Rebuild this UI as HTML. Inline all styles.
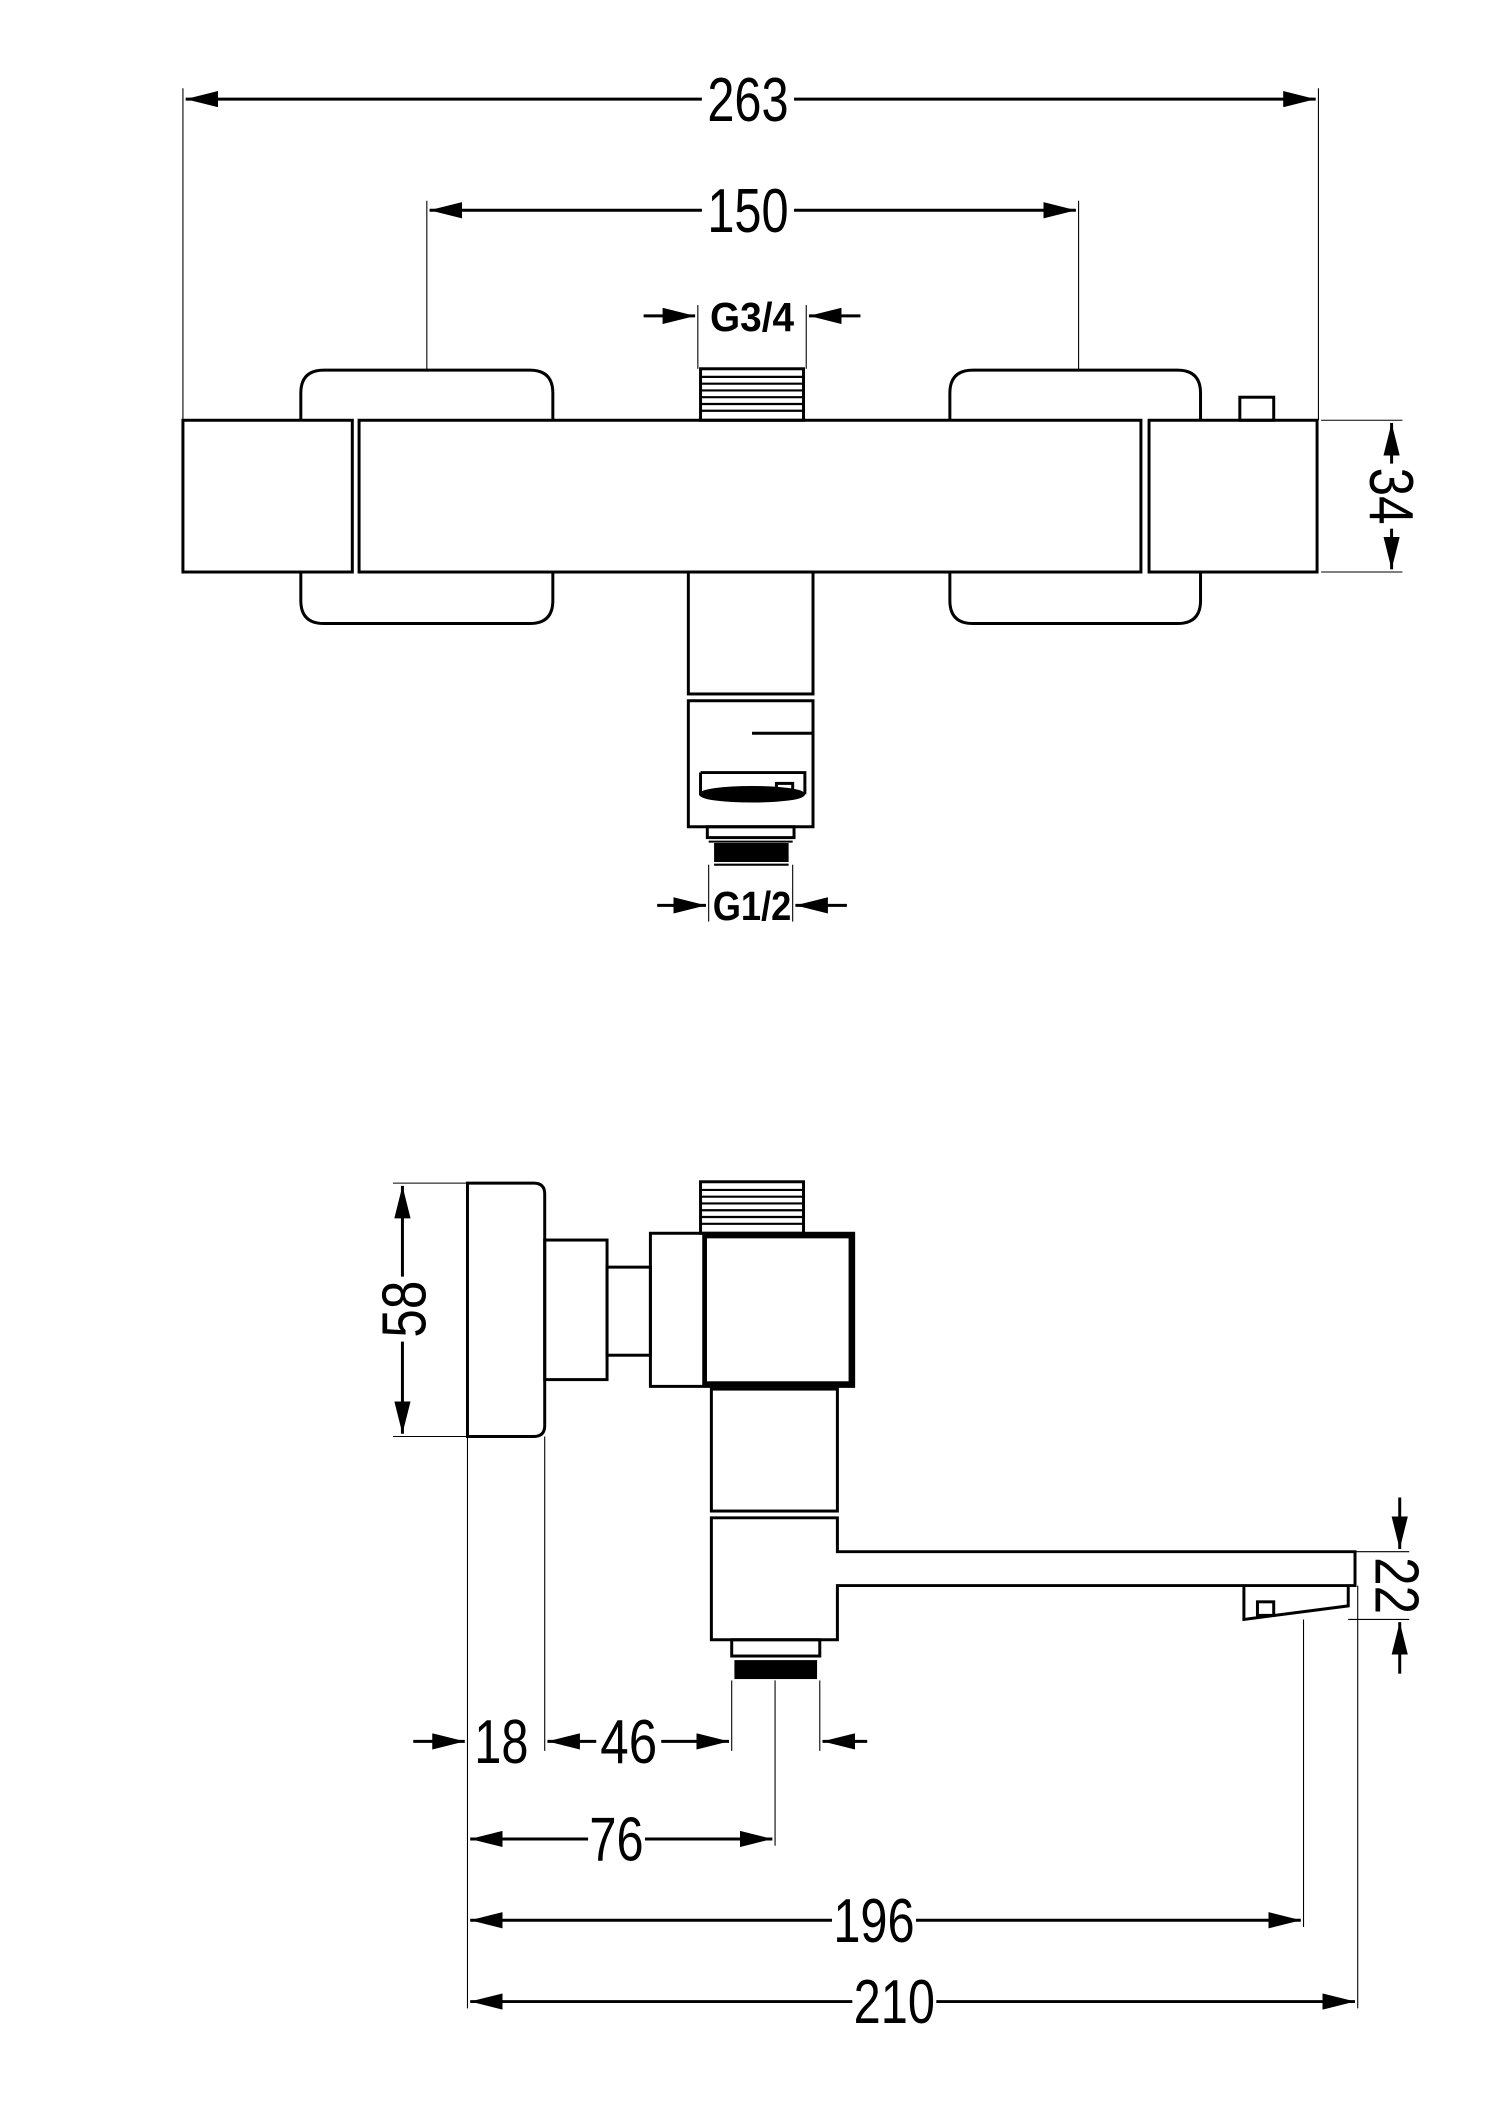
<!DOCTYPE html>
<html><head><meta charset="utf-8"><style>
html,body{margin:0;padding:0;background:#fff;}
svg{display:block;}
text{font-family:"Liberation Sans Narrow","Liberation Sans",sans-serif;fill:#000;}
</style></head><body>
<svg width="1500" height="2121" viewBox="0 0 1107 1565" xmlns="http://www.w3.org/2000/svg">
<defs>
<marker id="a" viewBox="0 0 24 12" refX="24" refY="6" markerWidth="24" markerHeight="12" markerUnits="userSpaceOnUse" orient="auto-start-reverse"><path d="M0,0 L24,6 L0,12 Z" fill="#000"/></marker>
</defs>
<g fill="none" stroke="#000">
<!-- TOP VIEW -->
<g stroke-width="0.8">
<line x1="135" y1="65" x2="135" y2="310"/><line x1="973" y1="65" x2="973" y2="310"/>
<line x1="315" y1="148" x2="315" y2="273"/><line x1="796" y1="148" x2="796" y2="273"/>
<line x1="515" y1="225" x2="515" y2="272"/><line x1="595" y1="225" x2="595" y2="272"/>
<line x1="975" y1="310" x2="1035" y2="310"/><line x1="975" y1="422" x2="1035" y2="422"/>
<line x1="523" y1="638" x2="523" y2="680"/><line x1="585" y1="638" x2="585" y2="680"/>
</g>
<g stroke-width="2.2">
<line x1="137" y1="73" x2="518" y2="73" marker-start="url(#a)"/><line x1="586" y1="73" x2="971" y2="73" marker-end="url(#a)"/>
<line x1="317" y1="155" x2="518" y2="155" marker-start="url(#a)"/><line x1="586" y1="155" x2="794" y2="155" marker-end="url(#a)"/>
<line x1="475" y1="233" x2="513" y2="233" marker-end="url(#a)"/><line x1="635" y1="233" x2="597" y2="233" marker-end="url(#a)"/>
<line x1="485" y1="668" x2="521" y2="668" marker-end="url(#a)"/><line x1="625" y1="668" x2="587" y2="668" marker-end="url(#a)"/>
<line x1="1027" y1="312" x2="1027" y2="342" marker-start="url(#a)"/><line x1="1027" y1="390" x2="1027" y2="420" marker-end="url(#a)"/>
</g>
<g stroke-width="2.2">
<path d="M222,310 V290 Q222,273 239,273 H391 Q408,273 408,290 V310"/>
<path d="M701,310 V290 Q701,273 718,273 H869 Q886,273 886,290 V310"/>
<path d="M222,422 V443 Q222,460 239,460 H391 Q408,460 408,443 V422"/>
<path d="M701,422 V443 Q701,460 718,460 H869 Q886,460 886,443 V422"/>
<rect x="135" y="310" width="125" height="112"/>
<rect x="265" y="310" width="577" height="112"/>
<rect x="848" y="310" width="124" height="112"/>
<rect x="915" y="293" width="25" height="17"/>
<rect x="517" y="272" width="76" height="38"/>
<rect x="508" y="422" width="92" height="90"/>
<rect x="508" y="517" width="92" height="93"/>
<line x1="555" y1="541" x2="600" y2="541"/>
<path d="M517,570 V586 M517,570 H594 V586"/>
<ellipse cx="555" cy="586" rx="38" ry="5" fill="#000"/>
<rect x="573" y="578" width="12" height="10"/>
<rect x="522" y="610" width="64" height="8"/>
</g>
<g stroke-width="1.6">
<line x1="517" y1="278" x2="593" y2="278"/><line x1="517" y1="283" x2="593" y2="283"/><line x1="517" y1="288" x2="593" y2="288"/><line x1="517" y1="293" x2="593" y2="293"/><line x1="517" y1="298" x2="593" y2="298"/><line x1="517" y1="303" x2="593" y2="303"/>
</g>
<rect x="527" y="622" width="55" height="14" fill="#000" stroke="none"/>
<line x1="523" y1="621" x2="585" y2="621" stroke-width="1.5"/><line x1="527" y1="638" x2="582" y2="638" stroke-width="1.5"/>

<!-- SIDE VIEW -->
<g stroke-width="0.8">
<line x1="290" y1="873" x2="345" y2="873"/><line x1="290" y1="1060" x2="345" y2="1060"/>
<line x1="345" y1="1060" x2="345" y2="1482"/>
<line x1="402" y1="1060" x2="402" y2="1292"/>
<line x1="540" y1="1240" x2="540" y2="1292"/><line x1="605" y1="1240" x2="605" y2="1292"/>
<line x1="572" y1="1240" x2="572" y2="1362"/>
<line x1="962" y1="1195" x2="962" y2="1422"/>
<line x1="1002" y1="1170" x2="1002" y2="1482"/>
<line x1="1000" y1="1145" x2="1040" y2="1145"/><line x1="995" y1="1195" x2="1040" y2="1195"/>
</g>
<g stroke-width="2.2">
<line x1="297" y1="875" x2="297" y2="942" marker-start="url(#a)"/><line x1="297" y1="990" x2="297" y2="1058" marker-end="url(#a)"/>
<line x1="1033" y1="1105" x2="1033" y2="1143" marker-end="url(#a)"/><line x1="1033" y1="1235" x2="1033" y2="1197" marker-end="url(#a)"/>
<line x1="305" y1="1285" x2="343" y2="1285" marker-end="url(#a)"/>
<line x1="440" y1="1285" x2="404" y2="1285" marker-end="url(#a)"/>
<line x1="488" y1="1285" x2="538" y2="1285" marker-end="url(#a)"/>
<line x1="640" y1="1285" x2="607" y2="1285" marker-end="url(#a)"/>
<line x1="347" y1="1357" x2="434" y2="1357" marker-start="url(#a)"/><line x1="476" y1="1357" x2="570" y2="1357" marker-end="url(#a)"/>
<line x1="347" y1="1417" x2="614" y2="1417" marker-start="url(#a)"/><line x1="676" y1="1417" x2="960" y2="1417" marker-end="url(#a)"/>
<line x1="347" y1="1477" x2="629" y2="1477" marker-start="url(#a)"/><line x1="691" y1="1477" x2="1000" y2="1477" marker-end="url(#a)"/>
</g>
<g stroke-width="2.2">
<path d="M345,873 H394 Q402,873 402,881 V1052 Q402,1060 394,1060 H345 Z"/>
<rect x="402" y="915" width="46" height="103"/>
<rect x="448" y="935" width="32" height="65"/>
<rect x="480" y="910" width="150" height="113"/>
<rect x="520" y="912" width="108" height="109" stroke-width="3.5"/>
<rect x="517" y="872" width="76" height="38"/>
<rect x="525" y="1025" width="93" height="90"/>
<path d="M525,1120 H618 V1145 H1000 V1170 H618 V1210 H525 Z"/>
<path d="M918,1170 V1195 L995,1185 V1170"/>
<rect x="928" y="1182" width="12" height="10"/>
<rect x="540" y="1210" width="65" height="12"/>
</g>
<g stroke-width="1.6">
<line x1="517" y1="878" x2="593" y2="878"/><line x1="517" y1="883" x2="593" y2="883"/><line x1="517" y1="888" x2="593" y2="888"/><line x1="517" y1="893" x2="593" y2="893"/><line x1="517" y1="898" x2="593" y2="898"/><line x1="517" y1="903" x2="593" y2="903"/>
</g>
<rect x="542" y="1225" width="61" height="14" fill="#000" stroke="none"/>
</g>

<g font-size="46" text-anchor="middle">
<text x="552" y="89" textLength="60" lengthAdjust="spacingAndGlyphs">263</text>
<text x="552" y="171" textLength="60" lengthAdjust="spacingAndGlyphs">150</text>
<text x="555" y="244" font-size="30" font-weight="bold" textLength="62" lengthAdjust="spacingAndGlyphs">G3/4</text>
<text x="555" y="679" font-size="30" font-weight="bold" textLength="58" lengthAdjust="spacingAndGlyphs">G1/2</text>
<text transform="translate(1011,366) rotate(90)" textLength="42" lengthAdjust="spacingAndGlyphs">34</text>
<text transform="translate(314,966) rotate(-90)" textLength="42" lengthAdjust="spacingAndGlyphs">58</text>
<text transform="translate(1015,1170) rotate(90)" textLength="42" lengthAdjust="spacingAndGlyphs">22</text>
<text x="370" y="1301" textLength="40" lengthAdjust="spacingAndGlyphs">18</text>
<text x="464" y="1301" textLength="42" lengthAdjust="spacingAndGlyphs">46</text>
<text x="455" y="1373" textLength="40" lengthAdjust="spacingAndGlyphs">76</text>
<text x="645" y="1433" textLength="60" lengthAdjust="spacingAndGlyphs">196</text>
<text x="660" y="1493" textLength="60" lengthAdjust="spacingAndGlyphs">210</text>
</g>
</svg>
</body></html>
